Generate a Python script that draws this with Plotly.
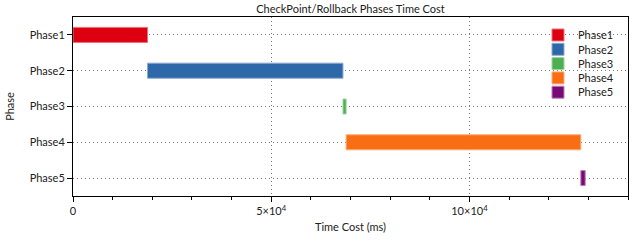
import plotly.graph_objects as go

phases = ["Phase1", "Phase2", "Phase3", "Phase4", "Phase5"]
starts = [0, 18800, 68100, 68900, 128100]
durations = [18800, 49300, 800, 59200, 1100]
colors = ["#DC0010", "#2D68A8", "#4CAF50", "#F96E14", "#780A78"]
edge_colors = ["#EC7078", "#8AAAD0", "#A0D4A2", "#FBAE7A", "#B884B8"]

x_tickvals = [0, 50000, 100000]
x_ticktext = ["0", "5×10<sup>4</sup>", "10×10<sup>4</sup>"]

FONT = "Lato, 'Open Sans', sans-serif"

fig = go.Figure()

W, H = 644, 241
ml, mr, mt, mb = 73, 16, 17, 45
ph = H - mt - mb
legend_centers_px = [35, 49.3, 63.6, 77.9, 92.2]

for i, (p, s, d) in enumerate(zip(phases, starts, durations)):
    lname = "legend" if i == 0 else f"legend{i+1}"
    fig.add_trace(go.Bar(
        y=[p], x=[d], base=[s], orientation="h", name=p,
        marker=dict(color=colors[i], line=dict(color=edge_colors[i], width=1)),
        width=0.42, legend=lname, showlegend=True,
    ))

layout_legends = {}
for i, cy in enumerate(legend_centers_px):
    lname = "legend" if i == 0 else f"legend{i+1}"
    layout_legends[lname] = dict(
        x=(538 - ml) / (W - ml - mr), xanchor="left",
        y=(H - mb - cy) / ph, yanchor="middle",
        bgcolor="rgba(0,0,0,0)", borderwidth=0,
        font=dict(family=FONT, size=11, color="#222"),
        itemclick=False,
    )

fig.update_layout(
    width=W, height=H,
    margin=dict(l=ml, r=mr, t=mt, b=mb, autoexpand=False),
    paper_bgcolor="white", plot_bgcolor="white",
    barmode="overlay",
    font=dict(family=FONT, size=11, color="#222"),
    title=dict(text="CheckPoint/Rollback Phases Time Cost", x=(ml + (W - ml - mr) / 2) / W,
               xanchor="center", y=1 - 9 / H, yanchor="middle",
               font=dict(family=FONT, size=11, color="#222")),
    xaxis=dict(
        range=[0, 140000], tickvals=x_tickvals, ticktext=x_ticktext,
        showline=True, linecolor="black", linewidth=1, mirror=True,
        ticks="outside", ticklen=5, tickcolor="black",
        minor=dict(dtick=10000, tick0=0, ticks="outside", ticklen=3, tickcolor="black", showgrid=False),
        showgrid=True, gridcolor="#777", griddash="1px,3px", gridwidth=1,
        zeroline=False, automargin=False,
        title=dict(text="Time Cost (ms)", standoff=7, font=dict(family=FONT, size=11)),
        tickfont=dict(family=FONT, size=11),
    ),
    yaxis=dict(
        type="category", categoryorder="array", categoryarray=phases,
        range=[4.5, -0.5],
        showline=True, linecolor="black", linewidth=1, mirror=True,
        ticks="outside", ticklen=5, tickcolor="black",
        showgrid=True, gridcolor="#777", griddash="1px,3px", gridwidth=1,
        zeroline=False, automargin=False,
        title=dict(text="Phase", standoff=12, font=dict(family=FONT, size=11)),
        tickfont=dict(family=FONT, size=11),
    ),
    **layout_legends,
)

fig.write_html("out.html")
